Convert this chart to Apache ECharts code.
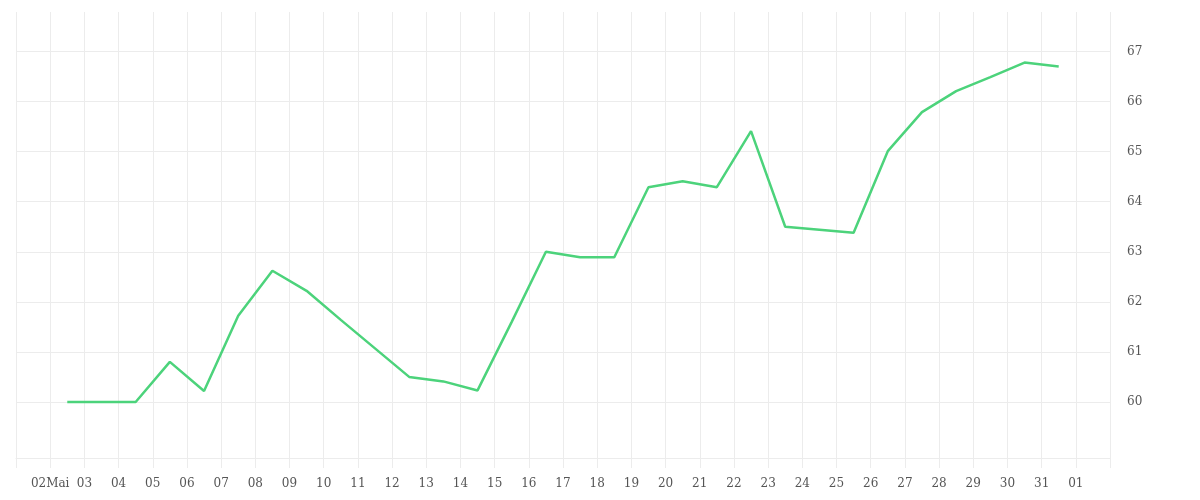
<!DOCTYPE html>
<html>
<head>
<meta charset="utf-8">
<script src="https://cdn.jsdelivr.net/npm/echarts@6/dist/echarts.min.js"></script>
<style>
html,body{margin:0;padding:0;background:#fff;}
#chart{width:1200px;height:500px;}
</style>
</head>
<body>
<div id="chart"></div>
<script>
// Day of month (May) for each data point, one point per day (drawn at mid-day)
const days = [2,3,4,5,6,7,8,9,10,11,12,13,14,15,16,17,18,19,20,21,22,23,24,25,26,27,28,29,30,31];
const values = [60.0,60.0,60.0,60.8,60.22,61.72,62.62,62.22,61.64,61.07,60.5,60.41,60.23,61.6,63.0,62.89,62.89,64.29,64.41,64.29,65.41,63.5,63.44,63.38,65.01,65.79,66.21,66.49,66.78,66.7];
// X tick labels for ticks at midnight, May 1 .. June 2
const xTickLabels = ['', '02Mai','03','04','05','06','07','08','09','10','11','12','13','14','15','16','17','18','19','20','21','22','23','24','25','26','27','28','29','30','31','01',''];
const yTicks = [60,61,62,63,64,65,66,67];

const seriesData = days.map((d, i) => [d + 0.5, values[i]]);
const labelFont = '"DejaVu Serif", serif';
const gridColor = '#ececec';

const chart = echarts.init(document.getElementById('chart'));
chart.setOption({
  animation: false,
  backgroundColor: '#fff',
  grid: { left: 16, right: 90, top: 12, bottom: 42, containLabel: false },
  xAxis: {
    type: 'value',
    min: 1,
    max: xTickLabels.length,
    interval: 1,
    axisLine: { show: true, lineStyle: { color: gridColor, width: 1 } },
    axisTick: { show: true, length: 10, lineStyle: { color: gridColor } },
    splitLine: { show: true, lineStyle: { color: gridColor, width: 1 } },
    axisLabel: {
      margin: 20,
      color: '#555',
      fontFamily: labelFont,
      fontSize: 12,
      showMinLabel: true,
      showMaxLabel: true,
      formatter: function (v) {
        const idx = Math.round(v) - 1;
        return xTickLabels[idx] || '';
      }
    }
  },
  yAxis: {
    type: 'value',
    position: 'right',
    min: 58.88,
    max: 67.79,
    axisLine: { show: false },
    axisTick: { show: false, customValues: yTicks },
    splitLine: { show: true, lineStyle: { color: gridColor, width: 1 } },
    axisLabel: {
      customValues: yTicks,
      margin: 17,
      color: '#555',
      fontFamily: labelFont,
      fontSize: 12,
      padding: [3, 0, 0, 0]
    }
  },
  series: [{
    type: 'line',
    data: seriesData,
    showSymbol: false,
    symbol: 'none',
    lineStyle: { color: '#4cd37b', width: 2.5 },
    itemStyle: { color: '#4cd37b' }
  }]
});
</script>
</body>
</html>
